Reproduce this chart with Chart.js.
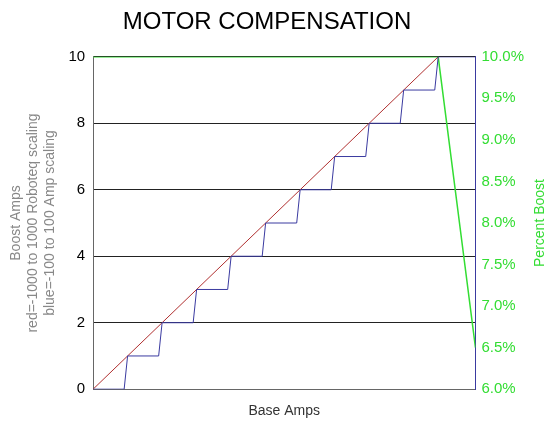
<!DOCTYPE html>
<html><head>
<script src="https://cdn.jsdelivr.net/npm/chart.js@4"></script>
<style>body{margin:0;background:#fff}#wrap{width:560px;height:436px}</style>
</head><body><div id="wrap"><canvas id="c"></canvas></div>
<script>
const redX = [0, 10];
const redY = [0, 10];
const blueX = [0, 0.9, 1, 1.9, 2, 2.9, 3, 3.9, 4, 4.9, 5, 5.9, 6, 6.9, 7, 7.9, 8, 8.9, 9, 9.9, 10, 11.08];
const blueY = [0, 0, 1, 1, 2, 2, 3, 3, 4, 4, 5, 5, 6, 6, 7, 7, 8, 8, 9, 9, 10, 10];
const greenX = [0, 10, 11.08];
const greenY = [10.0, 10.0, 6.5];
const leftTicks = [0, 2, 4, 6, 8, 10];

const pts = (xs, ys) => xs.map((x, i) => ({ x, y: ys[i] }));
const FONT = 'Arial, Liberation Sans';

// right-axis title drawn reading bottom-to-top, like the reference
const rightTitle = {
  id: 'rightTitle',
  afterDraw(chart) {
    const ctx = chart.ctx, a = chart.chartArea;
    ctx.save();
    ctx.translate(540, (a.top + a.bottom) / 2);
    ctx.rotate(-Math.PI / 2);
    ctx.fillStyle = '#33dd33';
    ctx.font = '14px ' + FONT;
    ctx.textAlign = 'center';
    ctx.textBaseline = 'middle';
    ctx.fillText('Percent Boost', 0, 0);
    ctx.restore();
  }
};

new Chart(document.getElementById('c'), {
  type: 'line',
  data: {
    datasets: [
      { data: pts(blueX, blueY), borderColor: '#3a3aa0', borderWidth: 1, pointRadius: 0, yAxisID: 'y' },
      { data: pts(redX, redY), borderColor: '#b03030', borderWidth: 1, pointRadius: 0, yAxisID: 'y' },
      { data: pts(greenX, greenY), borderColor: '#33dd33', borderWidth: 1.5, pointRadius: 0, yAxisID: 'y2' }
    ]
  },
  options: {
    responsive: true, maintainAspectRatio: false, animation: false,
    layout: { padding: { left: 4, right: 30, top: 0, bottom: 12 } },
    plugins: {
      legend: { display: false },
      title: { display: true, text: 'MOTOR COMPENSATION', color: '#000',
        font: { family: FONT, size: 24, weight: 'normal' }, padding: { top: 8, bottom: 20 } }
    },
    scales: {
      x: {
        type: 'linear', min: 0, max: 11.08,
        ticks: { display: false }, grid: { display: false },
        border: { color: '#666' },
        title: { display: true, text: 'Base Amps', color: '#333', font: { family: FONT, size: 14 }, padding: { top: 6 } }
      },
      y: {
        min: 0, max: 10,
        afterBuildTicks: a => { a.ticks = leftTicks.map(v => ({ value: v })); },
        ticks: { color: '#000', font: { family: FONT, size: 15 }, padding: 8 },
        grid: { color: '#222', drawTicks: false },
        border: { color: '#666' },
        title: { display: true, text: ['Boost Amps', 'red=-1000 to 1000 Roboteq scaling', 'blue=-100 to 100 Amp scaling'],
          color: '#888', font: { family: FONT, size: 14 }, padding: { bottom: 2 } }
      },
      y2: {
        position: 'right', min: 6, max: 10,
        ticks: { stepSize: 0.5, color: '#33dd33', font: { family: FONT, size: 15 }, padding: 6,
          callback: v => v.toFixed(1) + '%' },
        grid: { display: false, drawTicks: false },
        border: { color: '#3a3aa0' }
      }
    }
  },
  plugins: [rightTitle]
});
</script></body></html>
